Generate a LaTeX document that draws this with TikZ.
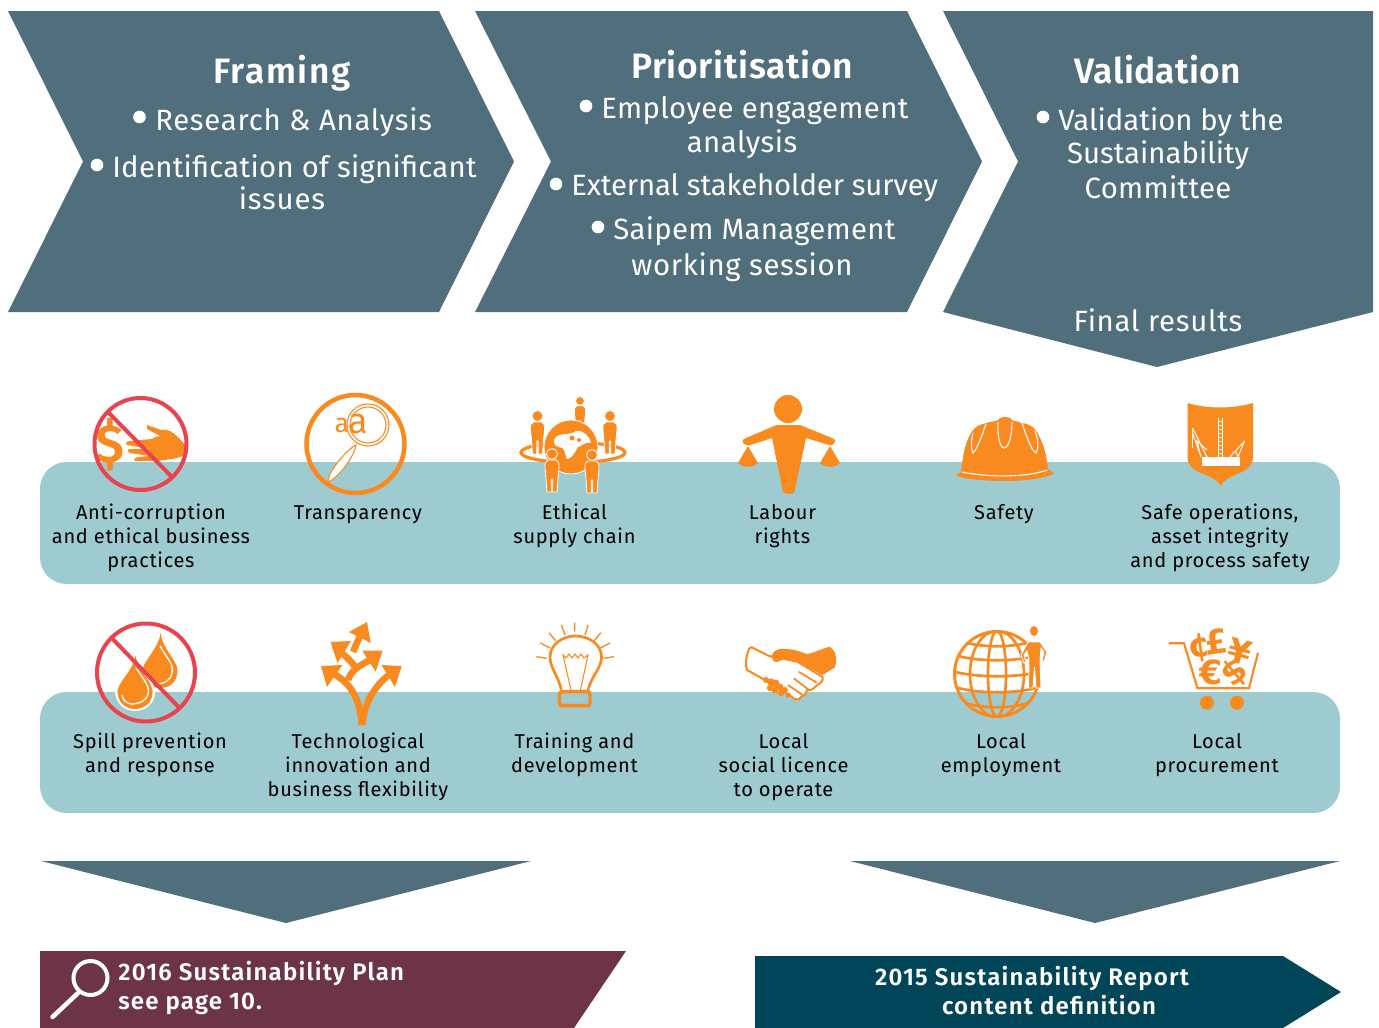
\documentclass[tikz,border=0pt]{standalone}
\usepackage{fontspec}
\setmainfont{Fira Sans}
\newfontfamily\semib{Fira Sans SemiBold}
\newfontfamily\symfont{DejaVu Sans}
\newcommand{\ls}[2]{{\addfontfeature{LetterSpace=#1}#2}}
\definecolor{slate}{HTML}{506E7B}
\definecolor{band}{HTML}{9ECBD0}
\definecolor{orng}{HTML}{F88A20}
\definecolor{redr}{HTML}{E8434F}
\definecolor{plum}{HTML}{6D3346}
\definecolor{deepb}{HTML}{004558}
\tikzset{
  shp/.style={fill=slate,draw=none},
  ttl/.style={white,anchor=base,inner sep=0pt,font=\semib\fontsize{26.5}{30}\selectfont},
  body/.style={white,anchor=base,inner sep=0pt,font=\fontsize{22}{26}\selectfont},
  bodyl/.style={body,anchor=base west},
  bul/.style={circle,fill=white,inner sep=0pt,minimum size=9.5pt},
  lab/.style={black,anchor=base,inner sep=0pt,align=center,font=\addfontfeature{LetterSpace=3.5}\fontsize{15}{18}\selectfont},
  ban/.style={white,inner sep=0pt,font=\semib\addfontfeature{LetterSpace=5}\fontsize{18}{21.75}\selectfont},
  oline/.style={draw=orng,fill=none,line width=2pt},
  noring/.style={draw=redr,line width=3pt,fill=none},
  wl/.style={draw=white,line width=.8pt,fill=none},
}
\newcommand{\hperson}[3]{%
  \begin{scope}[shift={(#1,#2)},scale=#3]
  \fill[orng,draw=white,line width=.6pt] (0,0) circle (5.5);
  \fill[orng,draw=white,line width=.6pt] (-4,6) .. controls (-7,7) and (-7,9) .. (-7,14) -- (-6,24) -- (-5,38) -- (-.7,38) -- (-.7,25) -- (.7,25) -- (.7,38) -- (5,38) -- (6,24) -- (7,14) .. controls (7,9) and (7,7) .. (4,6) -- cycle;
  \end{scope}}
\begin{document}
\begin{tikzpicture}[x=0.75pt,y=-0.75pt]
\useasboundingbox (0,0) rectangle (1379,1028);
% chevrons
\path[shp] (8,11) -- (439,11) -- (514,161.5) -- (439,312) -- (8,312) -- (83,161.5) -- cycle;
\path[shp] (475,11) -- (907,11) -- (982,161.5) -- (907,312) -- (475,312) -- (551,161.5) -- cycle;
\path[shp] (943,11) -- (1373,11) -- (1373,312) -- (1157,367) -- (943,312) -- (1018,161.5) -- cycle;
% framing
\node[ttl] (t1) at (282,83) {\ls{4.5}{Framing}};
\node[bul] (b1) at (139.5,117) {};
\node[bodyl] (t1a) at (155,130) {\ls{2.5}{Research \& Analysis}};
\node[bul] (b2) at (97,165) {};
\node[bodyl] (t1b) at (112,177) {\ls{1}{Identification of significant}};
\node[body] (t1c) at (282,209) {\ls{2.8}{issues}};
% prioritisation
\node[ttl] (t2) at (742,78) {\ls{2}{Prioritisation}};
\node[bul] (b3) at (586,106) {};
\node[bodyl] (t2a) at (601,118) {\ls{1.3}{Employee engagement}};
\node[body] (t2b) at (742,152) {\ls{1.7}{analysis}};
\node[bul] (b4) at (556,184) {};
\node[bodyl] (t2c) at (571,195) {\ls{-.4}{External stakeholder survey}};
\node[bul] (b5) at (598,227) {};
\node[bodyl] (t2d) at (613,239) {\ls{1}{Saipem Management}};
\node[body] (t2e) at (742,275) {\ls{2.3}{working session}};
% validation
\node[ttl] (t3) at (1158,83) {\ls{1}{Validation}};
\node[bul] (b6) at (1043,117) {};
\node[bodyl] (t3a) at (1058,130) {Validation by the};
\node[body] (t3b) at (1158,163) {Sustainability};
\node[body] (t3c) at (1158,198) {\ls{1}{Committee}};
\node[body] (t3d) at (1158,331) {\ls{2.4}{Final results}};
% bands
\fill[band,rounded corners=20pt] (40,462) rectangle (1340,584);
\fill[band,rounded corners=20pt] (40,692) rectangle (1340,813);
% ---------- icon: anti-corruption
\node[orng,inner sep=0pt,font=\semib\fontsize{40}{40}\selectfont] (dollar) at (110.5,445) {\$};
\fill[orng] (147,425) -- (161,430) .. controls (170,428) and (178,436) .. (185,445) -- (185,455) .. controls (175,460) and (160,461) .. (135,461) .. controls (132,458) and (136,457) .. (150,456) -- (130,453) .. controls (127,451) and (127,449) .. (130,449) -- (150,449) -- (127,445) .. controls (125,443) and (127,441) .. (130,441) -- (152,439) .. controls (155,437) and (158,436) .. (160,436) -- (147,429) -- cycle;
\draw[noring] (140.5,444) circle (46);
\draw[noring] (108,412) -- (171,476);
% ---------- icon: transparency
\draw[draw=orng,line width=3.4pt] (355.5,444) circle (49);
\draw[orng,line width=.8pt] (368,425) circle (21) (368,425) circle (18);
\draw[orng,line width=.8pt,fill=white] (356,445) .. controls (350,447) and (328,470) .. (328,482) .. controls (336,480) and (354,458) .. (356,445) -- cycle;
\node[orng,inner sep=0pt,font=\fontsize{20}{20}\selectfont] (aa) at (342,425) {a};
\node[orng,inner sep=0pt,font=\fontsize{27}{27}\selectfont] (ab) at (358,424) {a};
% ---------- icon: supply chain
\draw[orng,line width=2.4pt] (573,452.5) ellipse (52 and 10);
\hperson{537.5}{416}{1}
\hperson{580}{401}{.8}
\hperson{610}{416}{1}
\fill[orng,draw=white,line width=.6pt] (571,447) circle (27);
\fill[white] (556,437) .. controls (562,432) and (570,436) .. (576,431) .. controls (584,430) and (590,437) .. (591,443) .. controls (586,441) and (582,446) .. (578,447) .. controls (575,453) and (571,459) .. (567,459) .. controls (564,452) and (565,447) .. (559,447) .. controls (554,446) and (552,441) .. (556,437) -- cycle;
\fill[orng] (572,438) circle (2.5) (579,440) circle (2);
\hperson{552}{454}{1}
\hperson{592}{455}{1}
% ---------- icon: labour
\fill[orng] (788,409) ellipse (14 and 14);
\fill[orng] (776.5,425) -- (800,425) -- (832,438) .. controls (836,439) and (836,443) .. (832,445) -- (829,445) -- (806,438) -- (794.5,492) .. controls (792,494.5) and (786,494.5) .. (783,492) -- (772,438) -- (749,445.5) -- (746,445) .. controls (741,443) and (742,439) .. (746,438) -- cycle;
\fill[orng] (748,446) -- (738,463) .. controls (743,468) and (753,468) .. (758,463) -- cycle;
\fill[orng] (830,446) -- (820,463) .. controls (825,468) and (835,468) .. (840,463) -- cycle;
% ---------- icon: helmet
\fill[orng] (961,472) .. controls (963,455) and (965,443) .. (971,433) .. controls (975,426) and (981,424) .. (987,423) .. controls (990,421) and (995,422) .. (998,420) .. controls (999,416) and (1011,416) .. (1012,420) .. controls (1016,422) and (1019,421) .. (1022,423) .. controls (1030,424) and (1036,428) .. (1039,436) .. controls (1045,447) and (1047,460) .. (1048,469) -- (1054,473) .. controls (1050,477) and (1030,481) .. (1006,481) .. controls (985,481) and (960,479) .. (956,475) -- cycle;
\draw[wl] (998,422) .. controls (997,435) and (1000,448) .. (1004,448) .. controls (1009,448) and (1012,435) .. (1012,422);
\draw[wl] (986,424) .. controls (982,435) and (977,450) .. (973,453) .. controls (971,450) and (971,440) .. (973,433);
\draw[wl] (1022,423) .. controls (1026,435) and (1031,450) .. (1036,453) .. controls (1039,448) and (1038,438) .. (1035,431);
\draw[wl] (962,472) .. controls (985,477) and (1025,478) .. (1047.5,470);
% ---------- icon: shield
\fill[orng] (1187.5,403) .. controls (1208,409) and (1232,409) .. (1253,403) -- (1253,457) .. controls (1253,475) and (1228,472) .. (1220.5,486) .. controls (1213,472) and (1187.5,475) .. (1187.5,457) -- cycle;
\fill[white] (1202,457) rectangle (1240,466);
\draw[white,line width=.5pt] (1218.7,418) -- (1218.7,457) (1222.3,418) -- (1222.3,457);
\foreach \yy in {421,425,...,455} \draw[white,line width=.5pt] (1218.7,\yy) -- (1222.3,\yy);
\draw[white,line width=.7pt] (1192.5,428) -- (1192.5,448) (1192.5,428) -- (1207,457) (1192.5,433) -- (1201,457) -- (1197,441) -- (1207,450);
\draw[white,line width=.7pt] (1244.6,441) -- (1230,457) (1244.6,441) -- (1238,457) -- (1236,452) -- (1232,452);
% ---------- icon: spill
\fill[orng] (160.6,633) .. controls (158,650) and (142,662) .. (142,672) .. controls (143,682) and (150,688) .. (160,688) .. controls (170,688) and (177.5,682) .. (177.5,670) .. controls (177,660) and (163,650) .. (160.6,633) -- cycle;
\draw[white,line width=1pt] (160,646) .. controls (168,660) and (174,664) .. (172,673) .. controls (171,680) and (165,684) .. (155,684);
\fill[white] (135.4,652) .. controls (130,674) and (115,680) .. (115,692) .. controls (116,704) and (125,711) .. (135,711) .. controls (145,711) and (155,704) .. (155,692) .. controls (155,680) and (140,674) .. (135.4,652) -- cycle;
\fill[orng] (135.4,655) .. controls (133,672) and (117.4,682) .. (117.4,692) .. controls (118,702) and (125,709) .. (135,709) .. controls (145,709) and (152.6,702) .. (152.6,692) .. controls (152,680) and (138,672) .. (135.4,655) -- cycle;
\draw[white,line width=1pt] (136,668) .. controls (144,680) and (150,686) .. (148,694) .. controls (147,700) and (140,704) .. (131,704) .. controls (126,703) and (123,700) .. (122,695);
\draw[noring] (146,672.5) circle (49);
\draw[noring] (111.7,638) -- (178.6,707);
% ---------- icon: innovation
\begin{scope}[line width=5pt,orng]
\draw (361.6,725) .. controls (361,700) and (350,680) .. (329,672);
\draw (362.5,725) .. controls (364,700) and (378,682) .. (393,672);
\draw (348,680) .. controls (352,668) and (362,665) .. (375,657);
\draw (356,668) .. controls (350,660) and (345,655) .. (336,649);
\draw (353,652) .. controls (356,645) and (358,640) .. (363,630);
\end{scope}
\fill[orng] (321,666) -- (342.4,665) -- (327,687) -- cycle;
\fill[orng] (401.7,666) -- (381.5,665) -- (395,687) -- cycle;
\fill[orng] (382.6,650.7) -- (362.3,650.7) -- (375.7,671.7) -- cycle;
\fill[orng] (330.6,642) -- (351,641) -- (337.5,663) -- cycle;
\fill[orng] (367,622) -- (349,632) -- (370.8,643) -- cycle;
% ---------- icon: bulb
\draw[oline] (561.4,690) .. controls (558,675) and (550,668) .. (550,657) .. controls (550,645) and (562,636) .. (575,636) .. controls (590,636) and (601.5,645) .. (601.5,657) .. controls (601.5,668) and (592,675) .. (588,690);
\draw[oline,rounded corners=2pt,line width=2.6pt] (559.4,691.7) rectangle (590,705.7);
\draw[orng,line width=.8pt] (571,690) -- (563,655) -- (566,658) -- (569,654) -- (572,658) -- (575,654) -- (578,658) -- (581,654) -- (584,658) -- (588,655) -- (580.5,690);
\draw[orng,line width=1pt] (574.7,622.7) -- (574.7,631.7) (561.4,625) -- (565,635) (588,625) -- (585,635) (549,632.7) -- (555.6,640.7) (600.8,632.7) -- (594.2,640.7) (540.3,643) -- (550,648) (610,643) -- (600.4,648) (536.4,656.7) -- (546.8,658.3) (613.8,656.7) -- (603.4,658.3);
% ---------- icon: handshake
\fill[white,draw=orng,line width=1.5pt,line join=round] (748,651.7) .. controls (748,649) and (750,647) .. (751.7,647.3) -- (769,656) -- (797.6,661.7) -- (822.5,677) .. controls (824,681) and (820,683) .. (815,687) .. controls (812,691) and (808,690) .. (807,690) .. controls (806,694) and (804,696) .. (801,697) .. controls (799,700) and (797,700) .. (795,699) -- (765,680) -- (747,670) .. controls (745,665) and (746,658) .. (748,651.7) -- cycle;
\draw[orng,line width=1.3pt] (798.7,671.7) -- (816.7,682.7) (793.8,678.3) -- (809,690) (788,685) -- (802.5,695);
\fill[orng] (772.7,653.3) .. controls (775,650) and (780,648) .. (785,649) .. controls (795,649) and (800,652) .. (807,654) .. controls (815,653) and (825,647) .. (830,647) .. controls (835,650) and (836,655) .. (836,660) .. controls (836,664) and (835,668) .. (834,668) -- (822.5,675) -- (797.6,661.7) .. controls (790,660) and (785,659) .. (782,660) .. controls (780,662) and (776,662) .. (774.6,661.7) .. controls (772,660) and (771,656) .. (772.7,653.3) -- cycle;
\fill[orng] (766,680) circle (3) (771,682) circle (3.6) (776,683) circle (3.4) (770,688) circle (3.2) (775,690) circle (3.4) (780,687) circle (3.4) (781,693) circle (3.2) (785,690) circle (3) (788,695) circle (2.6);
% ---------- icon: globe
\begin{scope}
\clip (997,674) circle (43.5);
\draw[orng,line width=2pt] (997,674) ellipse (9 and 43) (997,674) ellipse (27 and 43);
\foreach \yy/\ww in {645/36,659/42,675/45,691/42,706/34} \draw[orng,line width=2pt] (997-\ww,\yy-4) .. controls (997-\ww/2,\yy+3) and (997+\ww/2,\yy+3) .. (997+\ww,\yy-4);
\end{scope}
\draw[orng,line width=2.2pt] (997,674) circle (42.5);
\fill[orng,draw=white,line width=.7pt] (1028,642) -- (1040,642) -- (1047,652) -- (1044,662) -- (1042,661) -- (1044,652) -- (1041,648) -- (1040,660) -- (1041,688) -- (1036,688) -- (1034.5,667) -- (1033,688) -- (1028.5,688) -- (1029,660) -- (1027,651) -- (1024,655) -- (1026,662) -- (1024,663) -- (1021,655) -- cycle;
\fill[orng] (1034,631) ellipse (4 and 5);
% ---------- icon: cart
\draw[orng,line width=1.6pt] (1168.8,643.3) -- (1184,643.3) -- (1197.5,688.3) -- (1249,688.3) -- (1258,652.7);
\fill[orng] (1207,702.7) ellipse (7 and 7) (1237,702.7) ellipse (7 and 7);
\begin{scope}[every node/.style={orng,inner sep=0pt,font=\symfont\bfseries\fontsize{25}{25}\selectfont}]
\node[rotate=8] (cent) at (1199.4,648) {¢};
\node[rotate=8] (pound) at (1216.7,642) {£};
\node[rotate=-15] (yen) at (1239.6,652) {¥};
\node (euro) at (1211,672) {€};
\node[rotate=40] (usd) at (1235,673) {\$};
\end{scope}
% labels row 1 (placed by the baseline of the last line)
\node[lab] (l1) at (151,567) {Anti-corruption\\and ethical business\\practices};
\node[lab] (l2) at (358,519) {Transparency};
\node[lab] (l3) at (574.5,543) {Ethical\\supply chain};
\node[lab] (l4) at (782.5,543) {Labour\\rights};
\node[lab] (l5) at (1004,519) {Safety};
\node[lab] (l6) at (1220,567) {Safe operations,\\asset integrity\\and process safety};
% labels row 2
\node[lab] (m1) at (150,772) {Spill prevention\\and response};
\node[lab] (m2) at (358,796) {Technological\\innovation and\\business flexibility};
\node[lab] (m3) at (574.5,772) {Training and\\development};
\node[lab] (m4) at (783.5,796) {Local\\social licence\\to operate};
\node[lab] (m5) at (1001,772) {Local\\employment};
\node[lab] (m6) at (1217,772) {Local\\procurement};
% down arrows
\path[shp] (41,861) -- (531,861) -- (286,923) -- cycle;
\path[shp] (850,861) -- (1340,861) -- (1095,923) -- cycle;
% banners
\fill[plum] (40,951) -- (626,951) -- (574,1028) -- (40,1028) -- cycle;
\fill[deepb] (755,956) -- (1283,956) -- (1341,992) -- (1283,1028) -- (755,1028) -- cycle;
\draw[white,line width=3pt] (90.5,978) circle (17);
\draw[white,line width=3.4pt,line cap=round] (79.4,991.7) -- (52.5,1017);
\node[ban,anchor=base west] (p1) at (118,980) {2016 Sustainability Plan};
\node[ban,anchor=base west] (p2) at (118,1009) {see page 10.};
\node[ban,anchor=base] (r1) at (1032,985) {2015 Sustainability Report};
\node[ban,anchor=base] (r2) at (1049,1014) {content definition};
\end{tikzpicture}
\end{document}
